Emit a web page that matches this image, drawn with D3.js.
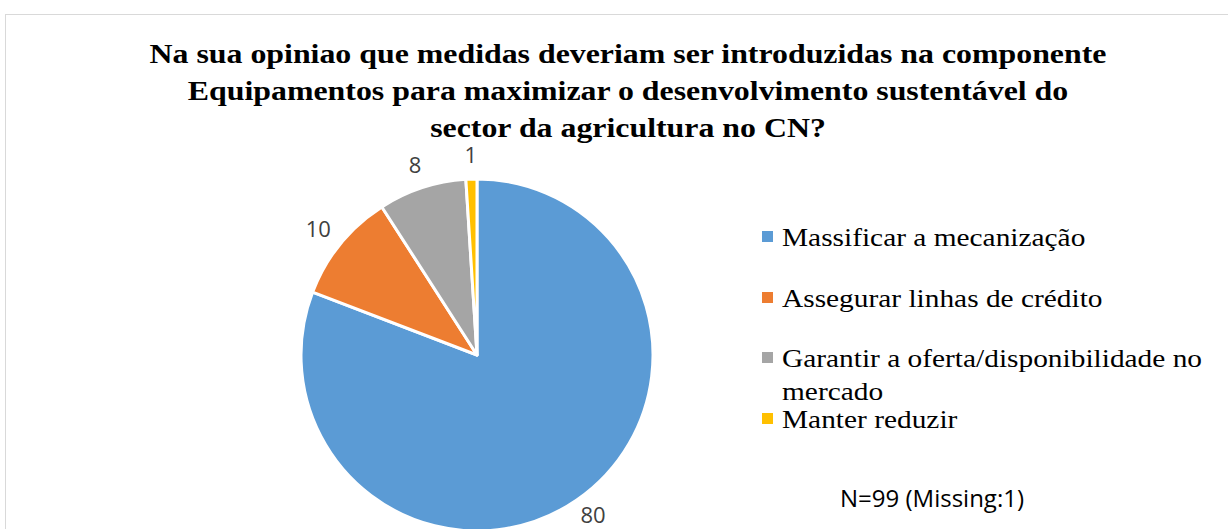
<!DOCTYPE html>
<html>
<head>
<meta charset="utf-8">
<script src="https://cdn.jsdelivr.net/npm/d3@7"></script>
<style>
  body { margin: 0; background: #fff; }
</style>
</head>
<body>
<script>
var categories = ["Massificar a mecanização", "Assegurar linhas de crédito", "Garantir a oferta/disponibilidade no mercado", "Manter reduzir"];
var values = [80, 10, 8, 1];
var colors = ["#5b9bd5", "#ed7d31", "#a5a5a5", "#ffc000"];
var titleLines = ["Na sua opiniao que medidas deveriam ser introduzidas na componente",
  "Equipamentos para maximizar o desenvolvimento sustentável do",
  "sector da agricultura no CN?"];
var note = "N=99 (Missing:1)";

var width = 1228, height = 529;
var svg = d3.select("body").append("svg")
  .attr("width", width)
  .attr("height", height);

svg.append("rect")
  .attr("x", 5.5).attr("y", 14.5)
  .attr("width", 1240).attr("height", 600)
  .attr("fill", "#fff")
  .attr("stroke", "#d9d9d9");

// title (source renders the serif a bit wider, hence the x scale)
svg.append("g")
  .attr("transform", "translate(628,0) scale(1.18,1)")
  .append("text")
  .attr("text-anchor", "middle")
  .attr("font-family", "Liberation Serif, Times New Roman, serif")
  .attr("font-weight", "bold")
  .attr("font-size", 27)
  .attr("fill", "#000")
  .selectAll("tspan")
  .data(titleLines)
  .enter().append("tspan")
  .attr("x", 0)
  .attr("y", function(d, i) { return 63 + i * 37; })
  .text(function(d) { return d; });

var cx = 477, cy = 355, r = 176;
var pie = d3.pie().sort(null).value(function(d) { return d; });
var arc = d3.arc().innerRadius(0).outerRadius(r);

var g = svg.append("g").attr("transform", "translate(" + cx + "," + cy + ")");
var arcs = pie(values);

g.selectAll("path")
  .data(arcs)
  .enter().append("path")
  .attr("d", arc)
  .attr("fill", function(d, i) { return colors[i]; })
  .attr("stroke", "#fff")
  .attr("stroke-width", 3)
  .attr("stroke-linejoin", "round");

// "outside end" labels: label box touches a point just outside the slice,
// kept inside the chart area
var gap = 16, digitH = 16;
var maxLabelY = height - 14 - cy;
g.selectAll(".lbl")
  .data(arcs)
  .enter().append("text")
  .attr("class", "lbl")
  .attr("text-anchor", "middle")
  .attr("dy", "0.36em")
  .attr("font-family", "Open Sans, sans-serif")
  .attr("font-size", 22)
  .attr("fill", "#404040")
  .text(function(d) { return d.value; })
  .attr("transform", function(d) {
    var a = (d.startAngle + d.endAngle) / 2;
    var w = this.getComputedTextLength();
    var sx = Math.sin(a), sy = -Math.cos(a);
    var x = sx * (r + gap) + sx * w / 2;
    var y = sy * (r + gap) + sy * digitH / 2;
    return "translate(" + x + "," + Math.min(y, maxLabelY) + ")";
  });

// legend
var legendRows = [
  { lines: [categories[0]], y: 246 },
  { lines: [categories[1]], y: 307 },
  { lines: ["Garantir a oferta/disponibilidade no", "mercado"], y: 367 },
  { lines: [categories[3]], y: 428 }
];
var legend = svg.append("g");
legendRows.forEach(function(row, i) {
  legend.append("rect")
    .attr("x", 762).attr("y", row.y - 15)
    .attr("width", 11).attr("height", 11)
    .attr("fill", colors[i]);
  var t = legend.append("g")
    .attr("transform", "translate(782,0) scale(1.13,1)")
    .append("text")
    .attr("font-family", "Liberation Serif, Times New Roman, serif")
    .attr("font-size", 26)
    .attr("fill", "#000");
  row.lines.forEach(function(l, j) {
    t.append("tspan").attr("x", 0).attr("y", row.y + j * 33).text(l);
  });
});

svg.append("text")
  .attr("x", 932).attr("y", 507)
  .attr("text-anchor", "middle")
  .attr("font-family", "Open Sans, sans-serif")
  .attr("font-size", 24)
  .attr("fill", "#000")
  .text(note);
</script>
</body>
</html>
